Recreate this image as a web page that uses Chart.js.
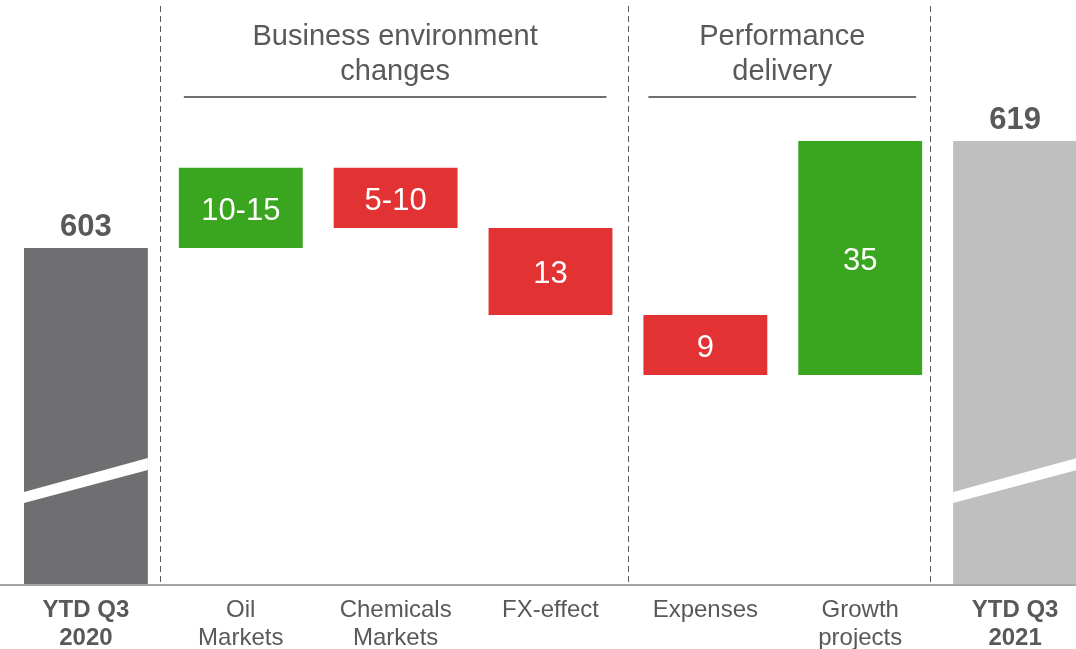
<!DOCTYPE html>
<html>
<head>
<meta charset="utf-8">
<script src="https://cdn.jsdelivr.net/npm/chart.js@4/dist/chart.umd.min.js"></script>
<style>
  html, body { margin: 0; padding: 0; background: #ffffff; overflow: hidden; }
  #wrap { position: relative; width: 1100px; height: 649px; }
</style>
</head>
<body>
<div id="wrap"><canvas id="bridge"></canvas></div>
<script>
// Bridge from YTD Q3 2020 to YTD Q3 2021
const categories = [["YTD Q3", "2020"], ["Oil", "Markets"], ["Chemicals", "Markets"], "FX-effect", "Expenses", ["Growth", "projects"], ["YTD Q3", "2021"]];
const openingValue = 603;
const changes = [12, -9, -13, -9, 35];
const closingValue = 619;
const valueLabels = ["603", "10-15", "5-10", "13", "9", "35", "619"];
const groupTitles = [["Business environment", "changes"], ["Performance", "delivery"]];
const groupMembers = [[1, 3], [4, 5]];

// broken value axis: only the top part of the totals is shown
const axisFloor = 552.6;
const axisCeil = 640.1;

const FONT = "'Liberation Sans', Arial, sans-serif";
const TEXT = '#595959';
const GREY_DARK = '#6f6f71';
const GREY_LIGHT = '#bfbfbf';
const GREEN = '#3aa51e';
const RED = '#e33234';

// floating bar ranges built from the running total
const ranges = [];
const colors = [];
let running = openingValue;
ranges.push([axisFloor, openingValue]);
colors.push(GREY_DARK);
changes.forEach(d => {
  const next = running + d;
  ranges.push([running, next]);
  colors.push(d >= 0 ? GREEN : RED);
  running = next;
});
ranges.push([axisFloor, closingValue]);
colors.push(GREY_LIGHT);

const totals = [0, categories.length - 1];

const decorations = {
  id: 'decorations',
  beforeDatasetsDraw(chart) {
    const { ctx, scales: { x }, chartArea } = chart;
    ctx.save();
    ctx.strokeStyle = '#595959';
    ctx.lineWidth = 1;
    ctx.setLineDash([6, 4]);
    [0.48, 3.5, 5.45].forEach(s => {
      const px = Math.round(x.getPixelForValue(s)) + 0.5;
      ctx.beginPath();
      ctx.moveTo(px, 6);
      ctx.lineTo(px, chartArea.bottom);
      ctx.stroke();
    });
    ctx.restore();
  },
  afterDatasetsDraw(chart) {
    const { ctx, chartArea } = chart;
    const meta = chart.getDatasetMeta(0);
    const base = chartArea.bottom;
    ctx.save();

    // axis-break stripes across the totals
    ctx.fillStyle = '#ffffff';
    totals.forEach(i => {
      const b = meta.data[i];
      const l = b.x - b.width / 2, r = b.x + b.width / 2;
      ctx.beginPath();
      ctx.moveTo(l, base - 93);
      ctx.lineTo(r, base - 127);
      ctx.lineTo(r, base - 115);
      ctx.lineTo(l, base - 82);
      ctx.closePath();
      ctx.fill();
    });

    // value labels
    ctx.textAlign = 'center';
    ctx.textBaseline = 'middle';
    meta.data.forEach((b, i) => {
      if (totals.includes(i)) {
        ctx.fillStyle = TEXT;
        ctx.font = 'bold 31px ' + FONT;
        ctx.fillText(valueLabels[i], b.x, Math.min(b.y, b.base) - 20.5);
      } else {
        ctx.fillStyle = '#ffffff';
        ctx.font = '31px ' + FONT;
        ctx.fillText(valueLabels[i], b.x, (b.y + b.base) / 2 + 3.5);
      }
    });

    // category baseline
    ctx.strokeStyle = '#a6a6a6';
    ctx.lineWidth = 2;
    ctx.beginPath();
    ctx.moveTo(0, base);
    ctx.lineTo(chart.width, base);
    ctx.stroke();

    // group headings with rules
    groupTitles.forEach((lines, g) => {
      const [a, z] = groupMembers[g];
      const ba = meta.data[a], bz = meta.data[z];
      const left = ba.x - ba.width / 2 + 5;
      const right = bz.x + bz.width / 2 - 6;
      const cx = (left + right) / 2;
      ctx.fillStyle = TEXT;
      ctx.font = '29px ' + FONT;
      lines.forEach((t, k) => ctx.fillText(t, cx, 37 + k * 35));
      ctx.strokeStyle = '#404040';
      ctx.lineWidth = 1.5;
      ctx.beginPath();
      ctx.moveTo(left, 97);
      ctx.lineTo(right, 97);
      ctx.stroke();
    });
    ctx.restore();
  }
};

new Chart(document.getElementById('bridge'), {
  type: 'bar',
  data: {
    labels: categories,
    datasets: [{
      data: ranges,
      backgroundColor: colors,
      borderWidth: 0,
      barPercentage: 0.8,
      categoryPercentage: 1.0
    }]
  },
  options: {
    responsive: true,
    maintainAspectRatio: false,
    animation: false,
    devicePixelRatio: 1,
    layout: { padding: { left: 8.5, right: 7.5, top: 0, bottom: 0 } },
    plugins: { legend: { display: false }, tooltip: { enabled: false } },
    scales: {
      x: {
        grid: { display: false },
        border: { display: false },
        afterFit(scale) { scale.height = 64; },
        ticks: {
          color: TEXT,
          padding: 2.6,
          maxRotation: 0,
          autoSkip: false,
          font: ctx => ({
            family: FONT,
            size: 24,
            lineHeight: 1.2,
            weight: (ctx.index === 0 || ctx.index === categories.length - 1) ? 'bold' : 'normal'
          })
        }
      },
      y: {
        display: false,
        min: axisFloor,
        max: axisCeil
      }
    }
  },
  plugins: [decorations]
});
</script>
</body>
</html>
